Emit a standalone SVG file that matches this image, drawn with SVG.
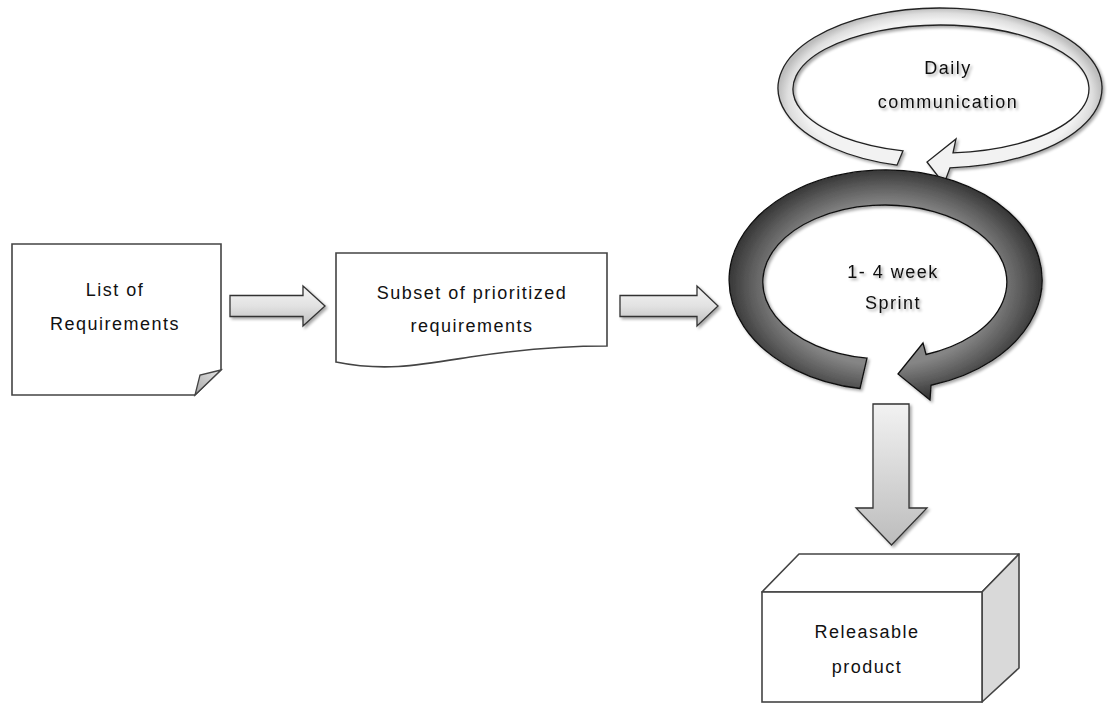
<svg xmlns="http://www.w3.org/2000/svg" width="1108" height="704" viewBox="0 0 1108 704">
  <defs>
    <linearGradient id="gArrowH" x1="0" y1="0" x2="0" y2="1">
      <stop offset="0" stop-color="#f4f4f4"/>
      <stop offset="0.5" stop-color="#e2e2e2"/>
      <stop offset="1" stop-color="#bdbdbd"/>
    </linearGradient>
    <linearGradient id="gArrowV" x1="0" y1="0" x2="0" y2="1">
      <stop offset="0" stop-color="#f2f2f2"/>
      <stop offset="1" stop-color="#bcbcbc"/>
    </linearGradient>
    <radialGradient id="gDark" cx="0.5" cy="0.5" r="0.5">
      <stop offset="0.7" stop-color="#858585"/>
      <stop offset="0.86" stop-color="#5e5e5e"/>
      <stop offset="1" stop-color="#383838"/>
    </radialGradient>
    <radialGradient id="gLight" cx="0.5" cy="0.5" r="0.5">
      <stop offset="0.86" stop-color="#f2f2f2"/>
      <stop offset="0.94" stop-color="#dedede"/>
      <stop offset="1" stop-color="#bdbdbd"/>
    </radialGradient>
    <linearGradient id="gFold" x1="0" y1="1" x2="1" y2="0">
      <stop offset="0" stop-color="#a8a8a8"/>
      <stop offset="1" stop-color="#e6e6e6"/>
    </linearGradient>
    <filter id="shadow" x="-10%" y="-10%" width="130%" height="130%">
      <feGaussianBlur in="SourceAlpha" stdDeviation="1.5"/>
      <feOffset dx="1.5" dy="1.5" result="b"/>
      <feComponentTransfer><feFuncA type="linear" slope="0.35"/></feComponentTransfer>
      <feMerge><feMergeNode/><feMergeNode in="SourceGraphic"/></feMerge>
    </filter>
  </defs>
  <style>
    .lbl { font-family: "Liberation Sans", Arial, sans-serif; font-size: 18px; letter-spacing: 1.5px; fill: #111; text-anchor: middle; }
    .box { fill: #ffffff; stroke: #444; stroke-width: 1.6; }
    .arr { stroke: #333; stroke-width: 1.3; stroke-linejoin: miter; }
  </style>
  <rect width="1108" height="704" fill="#ffffff"/>

  <g id="list-of-requirements">
    <path class="box" d="M12,244 H221 V370 L195,395 H12 Z"/>
    <path d="M221,370 L200,375 L195,395 Z" fill="url(#gFold)" stroke="#444" stroke-width="1.3"/>
    <text class="lbl" x="115" y="296">List of</text>
    <text class="lbl" x="115" y="330">Requirements</text>
  </g>

  <g id="subset-prioritized">
    <path class="box" d="M336,253 H607 V346 C570,346 530,348 470,357 C420,365 385,372 336,362 Z"/>
    <text class="lbl" x="472" y="299">Subset of prioritized</text>
    <text class="lbl" x="472" y="332">requirements</text>
  </g>

  <g id="daily-communication" filter="url(#shadow)">
    <path d="M897,165.13 A162,80 0 1 1 950,167.85 L944,184 L927,162 L956,139 L953,152.79 A148,64 0 1 0 903,150.86 Z" fill="url(#gLight)" stroke="#222" stroke-width="1.3" stroke-linejoin="miter"/>
    <text class="lbl" x="948" y="74">Daily</text>
    <text class="lbl" x="948" y="108">communication</text>
  </g>

  <g id="sprint" filter="url(#shadow)">
    <path d="M860,388.5 A156.5,110 0 1 1 931,385.25 L930,400 L898,374 L923,343 L926,354.5 A122,77 0 1 0 867,358.2 Z" fill="url(#gDark)" stroke="#111" stroke-width="1.3" stroke-linejoin="miter"/>
    <text class="lbl" x="893" y="278">1- 4 week</text>
    <text class="lbl" x="893" y="309">Sprint</text>
  </g>

  <g id="releasable-product">
    <path d="M762,592 L799,554 H1019 L982,592 Z" fill="#ffffff" stroke="#444" stroke-width="1.6" stroke-linejoin="round"/>
    <path d="M982,592 L1019,554 V668 L982,702 Z" fill="#d9d9d9" stroke="#444" stroke-width="1.6" stroke-linejoin="round"/>
    <rect class="box" x="762" y="592" width="220" height="110"/>
    <text class="lbl" x="867" y="638">Releasable</text>
    <text class="lbl" x="867" y="673">product</text>
  </g>

  <g id="connectors" filter="url(#shadow)">
    <polygon class="arr" fill="url(#gArrowH)" points="230,295.5 303,295.5 303,286 325,306 303,326 303,316.5 230,316.5"/>
    <polygon class="arr" fill="url(#gArrowH)" points="620,295.5 697,295.5 697,286 718,306 697,326 697,316.5 620,316.5"/>
    <polygon class="arr" fill="url(#gArrowV)" points="873,404 909,404 909,508 927,508 891.5,545 856,508 873,508"/>
  </g>
</svg>
